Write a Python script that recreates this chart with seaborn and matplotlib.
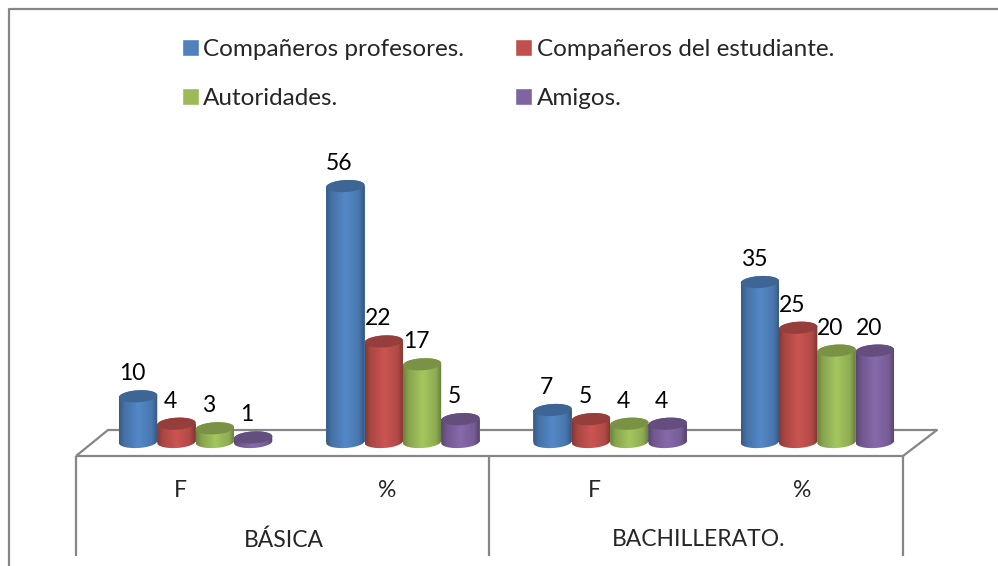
import numpy as np
import pandas as pd
import matplotlib
matplotlib.use("Agg")
import matplotlib.pyplot as plt
from matplotlib.colors import LinearSegmentedColormap, to_rgb
from matplotlib.lines import Line2D
from matplotlib.patches import PathPatch, Polygon
from matplotlib.path import Path
from matplotlib.transforms import Affine2D
import seaborn as sns

sub_labels = ["F", "%", "F", "%"]
group_labels = ["BÁSICA", "BACHILLERATO."]
categories = ["BÁSICA F", "BÁSICA %", "BACHILLERATO F", "BACHILLERATO %"]

profesores = [10, 56, 7, 35]
estudiante = [4, 22, 5, 25]
autoridades = [3, 17, 4, 20]
amigos = [1, 5, 4, 20]

series_names = ["Compañeros profesores.", "Compañeros del estudiante.", "Autoridades.", "Amigos."]
colors = ["#4F81BD", "#C0504D", "#9BBB59", "#8064A2"]

W, H = 998, 566
GRAY = "#868686"

sns.set_style("white")
plt.rcParams["font.family"] = ["Lato", "DejaVu Sans"]
FS = 16.5

df = pd.DataFrame({
    "cat": categories * 4,
    "serie": np.repeat(series_names, 4),
    "valor": profesores + estudiante + autoridades + amigos,
})

fig = plt.figure(figsize=(W / 100, H / 100), dpi=100)
# plot area in pixels: x 92-921, baseline y 442, room below for the round bar bases
ax = fig.add_axes([92 / W, 1 - 454 / H, 829 / W, 354 / H])
ax.patch.set_alpha(0)

px_x = 829 / 4
px_y = 4.57
ylim = (-12 / px_y, 342 / px_y)

sns.barplot(data=df, x="cat", y="valor", hue="serie", hue_order=series_names,
            palette=colors, saturation=1, width=0.74, gap=0, legend=False, ax=ax)
ax.set_axis_off()

pix = Affine2D().scale(1 / W, -1 / H).translate(0, 1) + fig.transFigure


def line(xs, ys):
    fig.add_artist(Line2D(xs, ys, color=GRAY, lw=1.6, transform=pix, zorder=-1,
                          solid_capstyle="butt"))


# outer frame, floor and table lines
line([9, 9, 998], [566, 8.5, 8.5])
line([76, 903, 937, 108, 76], [456, 456, 430, 430, 456])
line([76, 76], [456, 556])
line([489.5, 489.5], [456, 556])
line([903, 903], [456, 556])


def ellipse(cx, cy, rx, start=0, stop=2 * np.pi, ry=6, tilt=3.5):
    t = np.linspace(start, stop, 60)
    a = np.radians(tilt)
    ex, ey = rx * np.cos(t), ry * np.sin(t)
    dx = ex * np.cos(a) - ey * np.sin(a)
    dy = ex * np.sin(a) + ey * np.cos(a)
    return np.column_stack([cx + dx / px_x, cy + dy / px_y])


z = 3
for cont, col in zip(ax.containers, colors):
    base = np.array(to_rgb(col))
    cmap = LinearSegmentedColormap.from_list("c", [
        (0, base * 0.70), (0.14, base * 0.88), (0.5, np.minimum(base * 1.06, 1)),
        (0.85, base * 0.92), (1, base * 0.66)])
    grad = np.linspace(0, 1, 64).reshape(1, -1)
    for bar in cont:
        x0, w, h = bar.get_x(), bar.get_width(), bar.get_height()
        cx = x0 + w / 2
        rx = w * px_x / 2
        bar.set_edgecolor("none")
        # body with rounded base, clipped gradient fill
        low = ellipse(cx, 0, rx, np.pi, 2 * np.pi)
        top = ellipse(cx, h, rx, 0, np.pi)
        body = np.vstack([low, top, low[:1]])
        clip = PathPatch(Path(body), transform=ax.transData, fc="none", ec="none")
        ax.add_patch(clip)
        im = ax.imshow(grad, cmap=cmap, extent=[x0, x0 + w, -8 / px_y, h + 8 / px_y],
                       aspect="auto", zorder=z, interpolation="bilinear")
        im.set_clip_path(clip)
        ax.add_patch(Polygon(ellipse(cx, h, rx), fc=base * 0.78, ec="none",
                             zorder=z + 0.5, clip_on=False))
        ax.annotate(f"{int(h)}", (cx, h), xytext=(-6 * 0.72, 22.5 * 0.72),
                    textcoords="offset points", ha="center", va="center",
                    fontsize=FS, color="black", zorder=50)
        z += 1

ax.set_xlim(-0.5, 3.5)
ax.set_ylim(*ylim)

for i, lab in enumerate(sub_labels):
    ax.annotate(lab, (i, 0), xytext=(-15.5 * 0.72, -48.5 * 0.72), textcoords="offset points",
                ha="center", va="center", fontsize=FS, annotation_clip=False)
for i, lab in enumerate(group_labels):
    ax.annotate(lab, (2 * i + 0.5, 0), xytext=(-15.5 * 0.72, -98 * 0.72), textcoords="offset points",
                ha="center", va="center", fontsize=FS, annotation_clip=False)

order = [0, 2, 1, 3]
handles = [plt.Rectangle((0, 0), 1, 1, fc=colors[i]) for i in order]
fig.legend(handles, [series_names[i] for i in order], ncol=2, frameon=False,
           loc="upper left", bbox_to_anchor=(182 / W, 1 - 39 / H), fontsize=17.5,
           handlelength=0.7, handleheight=0.7, handletextpad=0.17,
           labelspacing=1.15, columnspacing=2.11, borderpad=0, borderaxespad=0)

fig.savefig("out.png", dpi=100, facecolor="white")
